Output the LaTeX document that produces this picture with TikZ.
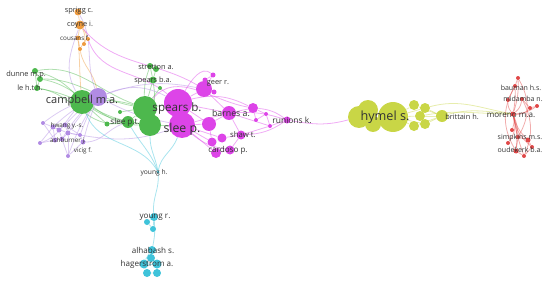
\documentclass[tikz,border=0pt]{standalone}
\usepackage{fontspec}
\setmainfont{Open Sans}
\usetikzlibrary{backgrounds}
\definecolor{cgrn}{HTML}{4DB84D}
\definecolor{cmag}{HTML}{DD44E8}
\definecolor{cprp}{HTML}{B18BE3}
\definecolor{corg}{HTML}{EE9B3F}
\definecolor{ccyn}{HTML}{3FC3DA}
\definecolor{cyel}{HTML}{C9D646}
\definecolor{cred}{HTML}{E04848}
\definecolor{ctxt}{HTML}{333333}

\begin{document}
\begin{tikzpicture}[
    x=0.02cm, y=-0.02cm,
    nd/.style={circle, inner sep=0pt, fill=#1, draw=none},
    rad/.style={minimum size=#1*0.04cm},
    eg/.style={draw=#1, line width=0.45pt, opacity=0.45},
    lbl/.style={text=ctxt, inner sep=0pt, font=\fontsize{#1}{#1}\selectfont},
  ]
  \useasboundingbox (0,0) rectangle (550,284);

  % orange
  \node[nd=corg, rad=3.5] (osprigg) at (78,12) {};
  \node[nd=corg, rad=4.5] (ocoyne) at (80,25) {};
  \node[nd=corg, rad=2.5] (oc1) at (78,38) {};
  \node[nd=corg, rad=2] (oc2) at (84,44) {};
  \node[nd=corg, rad=2] (oc3) at (80,49) {};
  \node[nd=corg, rad=2] (oc4) at (88,39) {};

  % green
  \node[nd=cgrn, rad=12] (gcampbell) at (82,102) {};
  \node[nd=cgrn, rad=3] (gd1) at (35,71) {};
  \node[nd=cgrn, rad=3] (gd2) at (40,79) {};
  \node[nd=cgrn, rad=3] (gle) at (37,88) {};
  \node[nd=cgrn, rad=3] (gstr1) at (150,66) {};
  \node[nd=cgrn, rad=3] (gstr2) at (156,69) {};
  \node[nd=cgrn, rad=3.5] (gspearsba) at (153,80) {};
  \node[nd=cgrn, rad=12] (gbig1) at (145,108) {};
  \node[nd=cgrn, rad=11] (gbig2) at (150,125) {};
  \node[nd=cgrn, rad=6] (gsleept) at (128,122) {};
  \node[nd=cgrn, rad=2.5] (gsm1) at (107,124) {};
  \node[nd=cgrn, rad=2] (gsm2) at (120,112) {};
  \node[nd=cgrn, rad=2] (gsm3) at (160,88) {};

  % purple
  \node[nd=cprp, rad=9] (pcampbell) at (98,97) {};
  \node[nd=cprp, rad=2] (p1) at (43,123) {};
  \node[nd=cprp, rad=2.5] (p2) at (53,127) {};
  \node[nd=cprp, rad=2.5] (p3) at (59,130) {};
  \node[nd=cprp, rad=2.5] (p4) at (65,125) {};
  \node[nd=cprp, rad=2.5] (p5) at (68,133) {};
  \node[nd=cprp, rad=2.5] (p6) at (55,140) {};
  \node[nd=cprp, rad=2.5] (p7) at (62,139) {};
  \node[nd=cprp, rad=2.5] (p8) at (83,142) {};
  \node[nd=cprp, rad=2] (p9) at (68,156) {};
  \node[nd=cprp, rad=2] (p10) at (40,143) {};
  \node[nd=cprp, rad=2] (p11) at (80,135) {};

  % magenta
  \node[nd=cmag, rad=14] (mspears) at (178,103) {};
  \node[nd=cmag, rad=13] (mslee) at (182,125) {};
  \node[nd=cmag, rad=8] (mgeer) at (204,89) {};
  \node[nd=cmag, rad=2.5] (msm1) at (213,75) {};
  \node[nd=cmag, rad=2.5] (msm2) at (205,80) {};
  \node[nd=cmag, rad=2.5] (msm3) at (214,92) {};
  \node[nd=cmag, rad=7] (mbarnes) at (229,113) {};
  \node[nd=cmag, rad=7] (mmid) at (209,124) {};
  \node[nd=cmag, rad=5] (mright) at (253,108) {};
  \node[nd=cmag, rad=2] (msm4) at (256,120) {};
  \node[nd=cmag, rad=2] (msm5) at (266,114) {};
  \node[nd=cmag, rad=2] (msm6) at (270,126) {};
  \node[nd=cmag, rad=3.5] (mrunions) at (287,120) {};
  \node[nd=cmag, rad=4.5] (mshaw) at (241,135) {};
  \node[nd=cmag, rad=4.5] (mshaw2) at (222,138) {};
  \node[nd=cmag, rad=4.5] (mshaw3) at (212,142) {};
  \node[nd=cmag, rad=4.5] (mcardoso) at (230,150) {};
  \node[nd=cmag, rad=5] (mcard2) at (216,153) {};

  % cyan
  \node[nd=ccyn, rad=1.5] (cyoungh) at (158,172) {};
  \node[nd=ccyn, rad=4] (cyoungr) at (154,217) {};
  \node[nd=ccyn, rad=3] (cy2) at (147,222) {};
  \node[nd=ccyn, rad=3] (cy3) at (153,229) {};
  \node[nd=ccyn, rad=4] (calhabash) at (152,250) {};
  \node[nd=ccyn, rad=4] (chag5) at (151,258) {};
  \node[nd=ccyn, rad=4.5] (chag1) at (144,264) {};
  \node[nd=ccyn, rad=4.5] (chag2) at (157,264) {};
  \node[nd=ccyn, rad=4] (chag3) at (147,273) {};
  \node[nd=ccyn, rad=4] (chag4) at (157,273) {};

  % yellow
  \node[nd=cyel, rad=11] (yl1) at (359,117) {};
  \node[nd=cyel, rad=10] (yl2) at (368,110) {};
  \node[nd=cyel, rad=8] (yl3) at (373,124) {};
  \node[nd=cyel, rad=15] (yhymel) at (393,117) {};
  \node[nd=cyel, rad=5] (ys1) at (414,105) {};
  \node[nd=cyel, rad=5] (ys2) at (425,108) {};
  \node[nd=cyel, rad=5] (ys3) at (420,116) {};
  \node[nd=cyel, rad=5] (ys4) at (414,126) {};
  \node[nd=cyel, rad=5] (ys5) at (425,124) {};
  \node[nd=cyel, rad=6] (ybrittain) at (442,116) {};

  % red
  \node[nd=cred, rad=2.5] (rmoreno) at (513,114) {};
  \node[nd=cred, rad=2] (r1) at (518,78) {};
  \node[nd=cred, rad=2] (r2) at (515,86) {};
  \node[nd=cred, rad=2] (r3) at (522,99) {};
  \node[nd=cred, rad=2] (r4) at (530,108) {};
  \node[nd=cred, rad=2] (r5) at (537,106) {};
  \node[nd=cred, rad=2] (r6) at (508,100) {};
  \node[nd=cred, rad=2] (r7) at (512,130) {};
  \node[nd=cred, rad=2] (r8) at (518,137) {};
  \node[nd=cred, rad=2.5] (r9) at (528,140) {};
  \node[nd=cred, rad=2] (r10) at (532,147) {};
  \node[nd=cred, rad=2.5] (r11) at (516,151) {};
  \node[nd=cred, rad=2] (r12) at (524,156) {};
  \node[nd=cred, rad=2] (r13) at (508,143) {};

  \begin{pgfonlayer}{background}
    % orange links
    \draw[eg=corg] (osprigg) -- (ocoyne) -- (oc1) -- (oc3);
    \draw[eg=corg] (ocoyne) to[bend left=20] (oc2) -- (oc3);
    \draw[eg=corg] (ocoyne) to[bend left=10] (oc4) -- (oc2);
    \draw[eg=corg] (oc1) to[out=-85,in=95] (gcampbell);
    \draw[eg=corg] (oc3) to[out=-80,in=100] (pcampbell);
    \draw[eg=cprp] (ocoyne) to[out=-110,in=120] (gcampbell);
    \draw[eg=cprp] (osprigg) to[out=-60,in=110] (pcampbell);
    \draw[eg=cmag] (oc4) to[out=-70,in=140] (mspears);
    \draw[eg=cmag] (ocoyne) to[out=-50,in=150] (mgeer);

    % green links
    \draw[eg=cgrn] (gd1) -- (gd2) -- (gle) -- (gd1);
    \draw[eg=cgrn] (gd1) to[bend left=15] (gcampbell);
    \draw[eg=cgrn] (gd1) to[out=10,in=160] (gbig1);
    \draw[eg=cgrn] (gd2) to[out=0,in=170] (gbig1);
    \draw[eg=cgrn] (gle) to[bend left=5] (gcampbell);
    \draw[eg=cgrn] (gle) to[out=-10,in=190] (gsleept);
    \draw[eg=cgrn] (gd2) to[out=-10,in=180] (gbig2);
    \draw[eg=cgrn] (gcampbell) to[bend left=10] (gbig1);
    \draw[eg=cgrn] (gcampbell) to[bend right=10] (gbig2);
    \draw[eg=cgrn] (gcampbell) to[bend right=10] (gsleept);
    \draw[eg=cgrn] (gcampbell) -- (gsm1) -- (gsleept);
    \draw[eg=cgrn] (gsm2) -- (gbig1);
    \draw[eg=cgrn] (gstr1) -- (gstr2) -- (gspearsba) -- (gstr1);
    \draw[eg=cgrn] (gstr1) to[bend right=10] (gbig1);
    \draw[eg=cgrn] (gspearsba) -- (gbig1);
    \draw[eg=cgrn] (gspearsba) to[bend left=10] (gbig2);
    \draw[eg=cgrn] (gsm3) -- (gbig1);
    \draw[eg=cgrn] (gbig1) -- (gbig2) -- (gsleept) -- (gbig1);
    \draw[eg=cgrn] (gbig1) -- (mspears);
    \draw[eg=cgrn] (gbig2) -- (mslee);

    % purple links
    \foreach \a/\b in {p1/p2, p2/p3, p3/p4, p4/p5, p5/p7, p6/p7, p2/p6,
                       p3/p7, p5/p11, p11/p8, p7/p9, p5/p9, p10/p6, p1/p6,
                       p4/p11, p8/p9, p2/p5, p10/p2}
      \draw[eg=cprp] (\a) -- (\b);
    \foreach \n/\b in {p1/-10, p2/-8, p4/-6, p5/-5, p7/-8, p11/-4, p8/-3, p9/-6}
      \draw[eg=cprp] (pcampbell) to[bend left=\b] (\n);
    \draw[eg=cprp] (pcampbell) to[bend left=25] (mspears);
    \draw[eg=cprp] (pcampbell) to[bend left=15] (mgeer);
    \draw[eg=cprp] (pcampbell) to[bend right=8] (mslee);
    \draw[eg=cprp] (p8) to[out=0,in=200] (gsleept);
    \draw[eg=cprp] (p5) to[out=-10,in=200] (mslee);
    \draw[eg=cprp] (p10) to[out=20,in=230] (gcampbell);

    % magenta links
    \foreach \a/\b in {mspears/mgeer, mspears/mbarnes, mspears/mmid,
                       mslee/mmid, mslee/mbarnes, mslee/mshaw2, mslee/mshaw3,
                       mslee/mcard2, mgeer/msm1, mgeer/msm2, mgeer/msm3,
                       msm1/msm2, mgeer/mbarnes, mbarnes/mright, mmid/mbarnes,
                       mbarnes/mshaw, mshaw/mshaw2, mshaw2/mshaw3,
                       mshaw3/mcard2, mcard2/mcardoso, mcardoso/mshaw,
                       mright/msm4, msm4/msm5, msm5/msm6, mright/msm5,
                       mbarnes/msm6, mshaw/msm6, mmid/mshaw3}
      \draw[eg=cmag] (\a) -- (\b);
    \draw[eg=cmag] (mspears) to[bend left=20] (mright);
    \draw[eg=cmag] (mslee) to[bend right=15] (mcardoso);
    \draw[eg=cmag] (mbarnes) to[bend left=10] (mrunions);
    \draw[eg=cmag] (mright) to[bend left=15] (mrunions);
    \draw[eg=cmag] (mshaw) to[bend right=15] (mrunions);
    \draw[eg=cmag] (msm6) -- (mrunions);
    \draw[eg=cmag] (mspears) to[out=60,in=140] (msm1);
    \draw[eg=cmag] (gbig1) to[out=50,in=170] (mright);
    \draw[eg=cmag] (mrunions) to[out=-10,in=-165] (yl1);

    % cyan links
    \draw[eg=ccyn] (cyoungr) to[out=95,in=-85] (cyoungh);
    \draw[eg=ccyn] (cyoungh) to[out=100,in=-90] (gbig2);
    \draw[eg=ccyn] (cyoungh) to[out=80,in=-110] (mslee);
    \draw[eg=ccyn] (cyoungh) to[out=120,in=-70] (gcampbell);
    \draw[eg=ccyn] (cyoungh) to[out=110,in=-60] (gsleept);
    \draw[eg=ccyn] (cyoungr) -- (cy2) -- (cy3) -- (cyoungr);
    \draw[eg=ccyn] (cyoungr) to[bend left=8] (calhabash);
    \draw[eg=ccyn] (calhabash) -- (chag5) -- (chag1) -- (chag3) -- (chag4) -- (chag2) -- (chag5);
    \draw[eg=ccyn] (chag1) -- (chag2);
    \draw[eg=ccyn] (calhabash) to[bend right=10] (chag1);

    % yellow links
    \foreach \n in {ys1, ys2, ys3, ys4, ys5}
      \draw[eg=cyel] (yhymel) -- (\n);
    \foreach \n in {ys1, ys2, ys3, ys4, ys5}
      \draw[eg=cyel] (\n) -- (ybrittain);
    \draw[eg=cyel] (yl1) -- (yl2) -- (yhymel) -- (yl3) -- (yl1);
    \draw[eg=cyel] (ybrittain) to[out=15,in=175] (rmoreno);
    \draw[eg=cyel] (ys2) to[out=15,in=170] (rmoreno);
    \draw[eg=cyel] (ys3) to[out=10,in=180] (rmoreno);

    % red links
    \foreach \n/\b in {r1/-10, r2/-6, r3/-20, r4/-25, r5/-15, r6/20,
                       r7/15, r8/10, r9/-15, r10/-20, r11/10, r12/-5, r13/25}
      \draw[eg=cred] (rmoreno) to[bend left=\b] (\n);
    \draw[eg=cred] (r1) to[bend left=30] (r8);
    \draw[eg=cred] (r2) to[bend right=30] (r11);
    \draw[eg=cred] (r3) to[bend left=25] (r12);
    \draw[eg=cred] (r8) -- (r9) -- (r10) -- (r12) -- (r11) -- (r8);
    \draw[eg=cred] (r1) -- (r2) -- (r6);
    \draw[eg=cred] (r3) -- (r4) -- (r5);
  \end{pgfonlayer}

  % labels
  \node[lbl=4.2] (tsprigg) at (79,11) {sprigg c.};
  \node[lbl=4.2] (tcoyne) at (80,25) {coyne i.};
  \node[lbl=3.6] (tcousans) at (75,38) {cousans f.};
  \node[lbl=4.2] (tdunne) at (26,75) {dunne m.p.};
  \node[lbl=4.2] (tle) at (30,88) {le h.t.h.};
  \node[lbl=6.3] (tcampbell) at (82,101) {campbell m.a.};
  \node[lbl=3.6] (thwang) at (67,126) {hwang y.-s.};
  \node[lbl=3.6] (tashburner) at (68,141) {ashburner j.};
  \node[lbl=3.6] (tvicig) at (83,151) {vicig f.};
  \node[lbl=4.2] (tstretton) at (156,67) {stretton a.};
  \node[lbl=4.2] (tspearsba) at (153,81) {spears b.a.};
  \node[lbl=4.6] (tsleept) at (125,122) {slee p.t.};
  \node[lbl=6.6] (tspears) at (177,108) {spears b.};
  \node[lbl=7] (tslee) at (182,129) {slee p.};
  \node[lbl=4.2] (tgeer) at (218,83) {geer r.};
  \node[lbl=5] (tbarnes) at (231,113) {barnes a.};
  \node[lbl=4.8] (trunions) at (292,120) {runions k.};
  \node[lbl=4.4] (tshaw) at (243,135) {shaw t.};
  \node[lbl=4.6] (tcardoso) at (228,150) {cardoso p.};
  \node[lbl=3.8] (tyoungh) at (154,173) {young h.};
  \node[lbl=4.6] (tyoungr) at (155,217) {young r.};
  \node[lbl=4.6] (talhabash) at (153,250) {alhabash s.};
  \node[lbl=4.6] (thagerstrom) at (147,264) {hagerstrom a.};
  \node[lbl=7.2] (thymel) at (385,117) {hymel s.};
  \node[lbl=4.2] (tbrittain) at (462,117) {brittain h.};
  \node[lbl=4] (tbauman) at (521,88) {bauman h.s.};
  \node[lbl=4] (tmidamba) at (523,99) {midamba n.};
  \node[lbl=4.6] (tmoreno) at (511,115) {moreno m.a.};
  \node[lbl=4] (tsimpkins) at (520,138) {simpkins m.s.};
  \node[lbl=4] (toudekerk) at (520,150) {oudekerk b.a.};
\end{tikzpicture}
\end{document}
